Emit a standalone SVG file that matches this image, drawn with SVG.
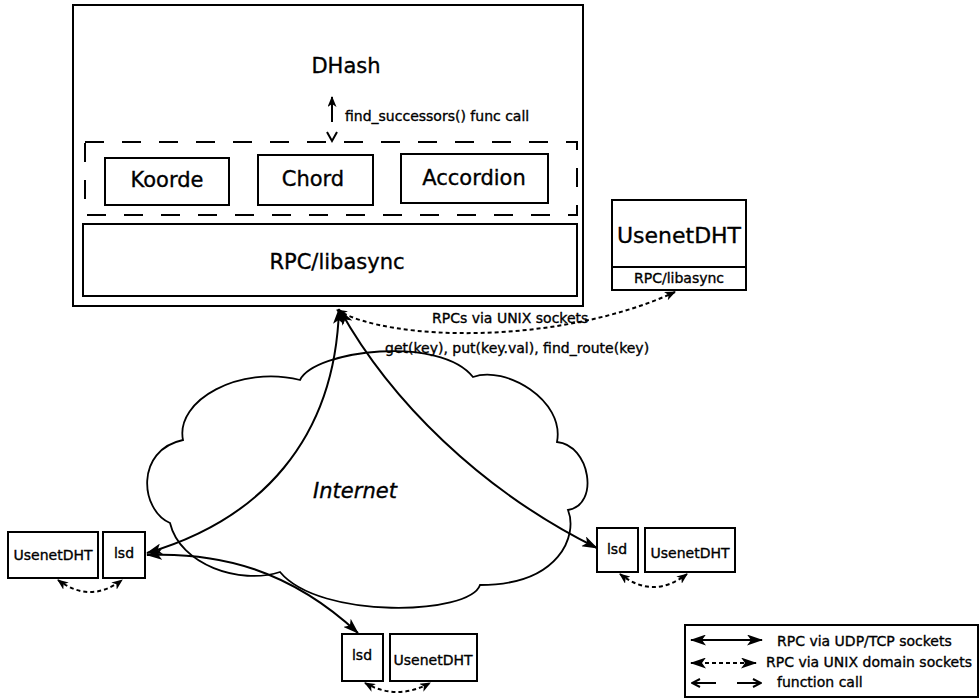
<svg xmlns="http://www.w3.org/2000/svg" width="980" height="698" viewBox="0 0 980 698">
  <style>
    .box { fill: #fff; stroke: #000; stroke-width: 2; }
    .dashbox { fill: none; stroke: #000; stroke-width: 2; stroke-dasharray: 19 18; }
    .t { font-family: "DejaVu Sans", "Liberation Sans", sans-serif; fill: #000; stroke: #000; stroke-width: 0.35; }
    .big { font-size: 21px; }
    .mid { font-size: 14px; }
    .rpc { fill: none; stroke: #000; stroke-width: 2; }
    .unix { fill: none; stroke: #000; stroke-width: 2; stroke-dasharray: 4 3; }
    .cloud { fill: none; stroke: #000; stroke-width: 1.8; }
  </style>
  <defs>
    <marker id="head" viewBox="0 0 16 11" refX="15" refY="5.5" markerWidth="16" markerHeight="11" markerUnits="userSpaceOnUse" orient="auto-start-reverse">
      <path d="M0,0 L16,5.5 L0,11 L4,5.5 Z" fill="#000"/>
    </marker>
    <marker id="small" viewBox="0 0 11 9" refX="10" refY="4.5" markerWidth="11" markerHeight="9" markerUnits="userSpaceOnUse" orient="auto-start-reverse">
      <path d="M0,0 L11,4.5 L0,9 L3,4.5 Z" fill="#000"/>
    </marker>
    <marker id="open" viewBox="0 0 10 10" refX="9" refY="5" markerWidth="10" markerHeight="10" markerUnits="userSpaceOnUse" orient="auto-start-reverse">
      <path d="M1,1 L9,5 L1,9" fill="none" stroke="#000" stroke-width="2"/>
    </marker>
  </defs>
  <rect width="980" height="698" fill="#fff"/>

  <!-- Internet cloud -->
  <g id="internet">
    <path class="cloud" d="M183,440 C175,400 240,365 300,380 C315,350 440,335 473,377 C505,365 565,400 557,442 C590,445 600,505 568,510 C578,535 560,585 480,585 C470,615 320,620 280,572 C240,585 180,565 170,523 C140,510 135,450 183,440 Z"/>
    <text class="t" x="355" y="498" font-size="21" font-style="italic" text-anchor="middle">Internet</text>
  </g>

  <!-- DHash node -->
  <g id="dhash">
    <rect class="box" x="73" y="5" width="510" height="301"/>
    <text class="t big" x="346" y="73" text-anchor="middle">DHash</text>
    <line x1="332" y1="122" x2="332" y2="97" stroke="#000" stroke-width="2" marker-end="url(#small)"/>
    <text class="t mid" x="345" y="121">find_successors() func call</text>
    <polyline points="327,132 332,141 337,132" fill="none" stroke="#000" stroke-width="2"/>
  </g>

  <g id="lookup-layer">
    <rect class="dashbox" x="85" y="142" width="492" height="73"/>
  </g>
  <g id="koorde">
    <rect class="box" x="105" y="158" width="124" height="47"/>
    <text class="t big" x="167" y="187" text-anchor="middle">Koorde</text>
  </g>
  <g id="chord">
    <rect class="box" x="258" y="155" width="115" height="50"/>
    <text class="t big" x="313" y="186" text-anchor="middle">Chord</text>
  </g>
  <g id="accordion">
    <rect class="box" x="401" y="154" width="147" height="49"/>
    <text class="t big" x="474" y="185" text-anchor="middle">Accordion</text>
  </g>
  <g id="rpc-main">
    <rect class="box" x="83" y="224" width="494" height="72"/>
    <text class="t big" x="337" y="269" text-anchor="middle">RPC/libasync</text>
  </g>

  <!-- UsenetDHT next to DHash -->
  <g id="usenet-top">
    <rect class="box" x="612" y="200" width="134" height="90"/>
    <line x1="612" y1="267" x2="746" y2="267" stroke="#000" stroke-width="2"/>
    <text class="t" x="679" y="243" font-size="22" text-anchor="middle">UsenetDHT</text>
    <text class="t mid" x="679" y="283" text-anchor="middle">RPC/libasync</text>
  </g>

  <!-- remote hosts -->
  <g id="usenet-left">
    <rect class="box" x="8" y="532" width="90" height="46"/>
    <text class="t mid" x="53" y="560" text-anchor="middle">UsenetDHT</text>
  </g>
  <g id="lsd-left">
    <rect class="box" x="103" y="532" width="42" height="46"/>
    <text class="t mid" x="124" y="558" text-anchor="middle">lsd</text>
  </g>
  <g id="lsd-right">
    <rect class="box" x="597" y="528" width="41" height="44"/>
    <text class="t mid" x="617" y="554" text-anchor="middle">lsd</text>
  </g>
  <g id="usenet-right">
    <rect class="box" x="645" y="528" width="90" height="44"/>
    <text class="t mid" x="690" y="558" text-anchor="middle">UsenetDHT</text>
  </g>
  <g id="lsd-bottom">
    <rect class="box" x="342" y="634" width="41" height="47"/>
    <text class="t mid" x="362" y="660" text-anchor="middle">lsd</text>
  </g>
  <g id="usenet-bottom">
    <rect class="box" x="390" y="634" width="87" height="47"/>
    <text class="t mid" x="433" y="665" text-anchor="middle">UsenetDHT</text>
  </g>

  <!-- connectors -->
  <g id="connectors">
    <path class="rpc" d="M339,309 C335,440 260,520 147,553" marker-start="url(#head)" marker-end="url(#head)"/>
    <path class="rpc" d="M340,310 C390,400 480,490 597,548" marker-start="url(#head)" marker-end="url(#head)"/>
    <path class="rpc" d="M147,555 C220,552 290,570 358,633" marker-start="url(#head)" marker-end="url(#head)"/>
    <path class="unix" d="M337,310 C390,342 560,345 675,292" marker-start="url(#small)" marker-end="url(#small)"/>
    <path class="unix" d="M58,580 Q90,604 122,580" marker-start="url(#small)" marker-end="url(#small)"/>
    <path class="unix" d="M620,574 Q653,600 687,574" marker-start="url(#small)" marker-end="url(#small)"/>
    <path class="unix" d="M365,683 Q397,701 430,683" marker-start="url(#small)" marker-end="url(#small)"/>
    <text class="t mid" x="432" y="323">RPCs via UNIX sockets</text>
    <text class="t mid" x="385" y="353">get(key), put(key.val), find_route(key)</text>
  </g>

  <!-- legend -->
  <g id="legend">
    <rect class="box" x="685" y="625" width="293" height="72"/>
    <line class="rpc" x1="691" y1="640" x2="762" y2="640" marker-start="url(#head)" marker-end="url(#head)"/>
    <text class="t mid" x="777" y="646">RPC via UDP/TCP sockets</text>
    <line class="unix" x1="691" y1="663" x2="756" y2="663" marker-start="url(#head)" marker-end="url(#head)"/>
    <text class="t mid" x="766" y="667">RPC via UNIX domain sockets</text>
    <line x1="692" y1="683" x2="716" y2="683" stroke="#000" stroke-width="2" marker-start="url(#open)"/>
    <line x1="737" y1="683" x2="761" y2="683" stroke="#000" stroke-width="2" marker-end="url(#open)"/>
    <text class="t mid" x="777" y="687">function call</text>
  </g>
</svg>
